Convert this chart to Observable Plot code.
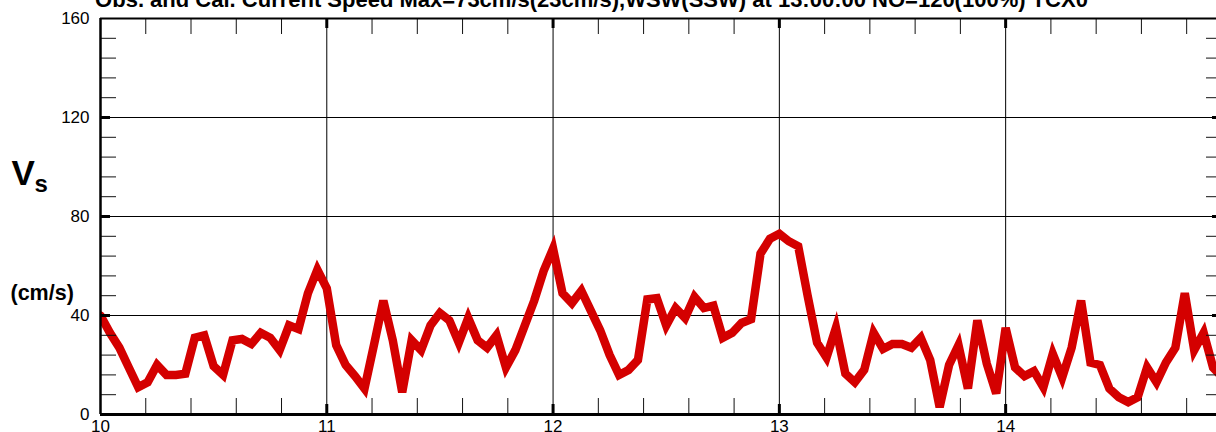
<!DOCTYPE html>
<html>
<head>
<meta charset="utf-8">
<script src="https://cdn.jsdelivr.net/npm/d3@7"></script>
<script src="https://cdn.jsdelivr.net/npm/@observablehq/plot@0.6"></script>
<style>
html, body { margin: 0; padding: 0; background: #fff; overflow: hidden; }
#chart svg { overflow: hidden; }
</style>
</head>
<body>
<div id="chart"></div>
<script>
// ---- data (hourly current speed, cm/s, starting day 10 00:00) ----
const startDay = 10;
const hoursPerDay = 24;
const speeds = [
  40, 33, 27, 19, 11, 13, 20, 16, 16, 16.5,
  31, 32, 19.5, 16, 30, 30.5, 28.5, 33, 31, 26,
  36, 34.5, 49, 58.5, 51, 28, 20, 15.5, 10.5, 28,
  46, 30, 9, 30, 26, 36, 41, 38, 29, 39,
  30, 27, 32, 19, 26, 36, 46, 58, 67, 49,
  45, 50, 42, 34, 24, 16, 18, 22, 46.5, 47,
  36, 43, 39, 47.5, 43, 44, 31, 33, 37, 38.5,
  65, 71, 73, 70, 68, 48, 29, 23, 35, 16.5,
  13, 18, 33, 26.5, 28.5, 28.5, 27, 31, 22, 3,
  20, 28, 10.5, 38, 20.5, 8.5, 35, 19, 15.5, 17.5,
  11, 24.5, 15, 27, 46, 21, 20, 10.5, 7, 5,
  7, 19, 13, 21, 27, 49, 26, 33, 19, 15
];
const xTickLabels = [10, 11, 12, 13, 14];
const xGridLines = [11, 12, 13, 14];
const yTickLabels = [0, 40, 80, 120, 160];
const yGridLines = [40, 80, 120];
const titleText = "Obs. and Cal. Current Speed Max=73cm/s(23cm/s),WSW(SSW) at 13:00:00 NO=120(100%) TCX0";
const yLabelMain = "V";
const yLabelSub = "s";
const yLabelUnit = "(cm/s)";

// ---- derived tables ----
const data = speeds.map((v, i) => ({day: startDay + i / hoursPerDay, speed: v}));
const xMax = startDay + (speeds.length - 1) / hoursPerDay;
const xMinor = d3.range(1, 25).map(i => 10 + i / 5).filter(d => Math.abs(d - Math.round(d)) > 1e-6 && d <= xMax);
const yMinor = d3.range(1, 20).map(i => i * 8).filter(d => d % 40 !== 0);

const W = 1216, H = 432;
const mL = 100, mR = -6, mT = 18, mB = 18;
const fw = W - mL - mR, fh = H - mT - mB;
const tickLen = 16, majorLen = 10;

const plot = Plot.plot({
  width: W,
  height: H,
  marginLeft: mL,
  marginRight: mR,
  marginTop: mT,
  marginBottom: mB,
  style: {fontFamily: "'Liberation Sans', Arial, sans-serif", fontSize: "17px", color: "#000", background: "#fff", overflow: "hidden"},
  x: {domain: [startDay, xMax], range: [mL, W - mR]},
  y: {domain: [0, 160], range: [H - mB, mT]},
  marks: [
    Plot.ruleX(xGridLines, {stroke: "#000", strokeWidth: 1}),
    Plot.ruleY(yGridLines, {stroke: "#000", strokeWidth: 1.2}),
    Plot.line(data, {x: "day", y: "speed", stroke: "#d40000", strokeWidth: 8.5, strokeLinejoin: "miter", strokeMiterlimit: 4, clip: true}),
    // minor ticks
    Plot.tickX(xMinor, {x: d => d, insetTop: fh - tickLen, stroke: "#111", strokeWidth: 1}),
    Plot.tickX(xMinor, {x: d => d, insetBottom: fh - tickLen, stroke: "#111", strokeWidth: 1}),
    Plot.tickY(yMinor, {y: d => d, insetRight: fw - tickLen, stroke: "#111", strokeWidth: 1}),
    Plot.tickY(yMinor, {y: d => d, insetLeft: fw - tickLen, stroke: "#111", strokeWidth: 1}),
    // major ticks
    Plot.tickX(xGridLines, {x: d => d, insetTop: fh - majorLen, stroke: "#000", strokeWidth: 3}),
    Plot.tickX(xGridLines, {x: d => d, insetBottom: fh - majorLen, stroke: "#000", strokeWidth: 3}),
    Plot.tickY(yGridLines, {y: d => d, insetRight: fw - majorLen, stroke: "#000", strokeWidth: 3}),
    Plot.tickY(yGridLines, {y: d => d, insetLeft: fw - majorLen, stroke: "#000", strokeWidth: 3}),
    // border
    Plot.ruleY([0], {stroke: "#000", strokeWidth: 3}),
    Plot.ruleY([160], {stroke: "#000", strokeWidth: 2}),
    Plot.ruleX([startDay], {stroke: "#000", strokeWidth: 2.5}),
    Plot.ruleX([xMax], {stroke: "#000", strokeWidth: 2}),
    // axes
    Plot.axisX({ticks: xTickLabels, tickSize: 0, tickPadding: 5, tickFormat: d => String(d), label: null, fontSize: 17}),
    Plot.axisY({ticks: yTickLabels, tickSize: 0, tickPadding: 11, tickFormat: d => String(d), label: null, fontSize: 17}),
    // texts
    Plot.text([titleText], {text: d => d, frameAnchor: "top-left", dx: 491, dy: -12, textAnchor: "middle", lineAnchor: "bottom", fontSize: 22, fontWeight: "bold"}),
    Plot.text([yLabelMain], {text: d => d, frameAnchor: "top-left", dx: -89, dy: 166, textAnchor: "start", lineAnchor: "bottom", fontSize: 35, fontWeight: "bold"}),
    Plot.text([yLabelSub], {text: d => d, frameAnchor: "top-left", dx: -66, dy: 173, textAnchor: "start", lineAnchor: "bottom", fontSize: 24, fontWeight: "bold"}),
    Plot.text([yLabelUnit], {text: d => d, frameAnchor: "top-left", dx: -90, dy: 281, textAnchor: "start", lineAnchor: "bottom", fontSize: 21.5, fontWeight: "bold"})
  ]
});
document.getElementById("chart").appendChild(plot);
</script>
</body>
</html>
